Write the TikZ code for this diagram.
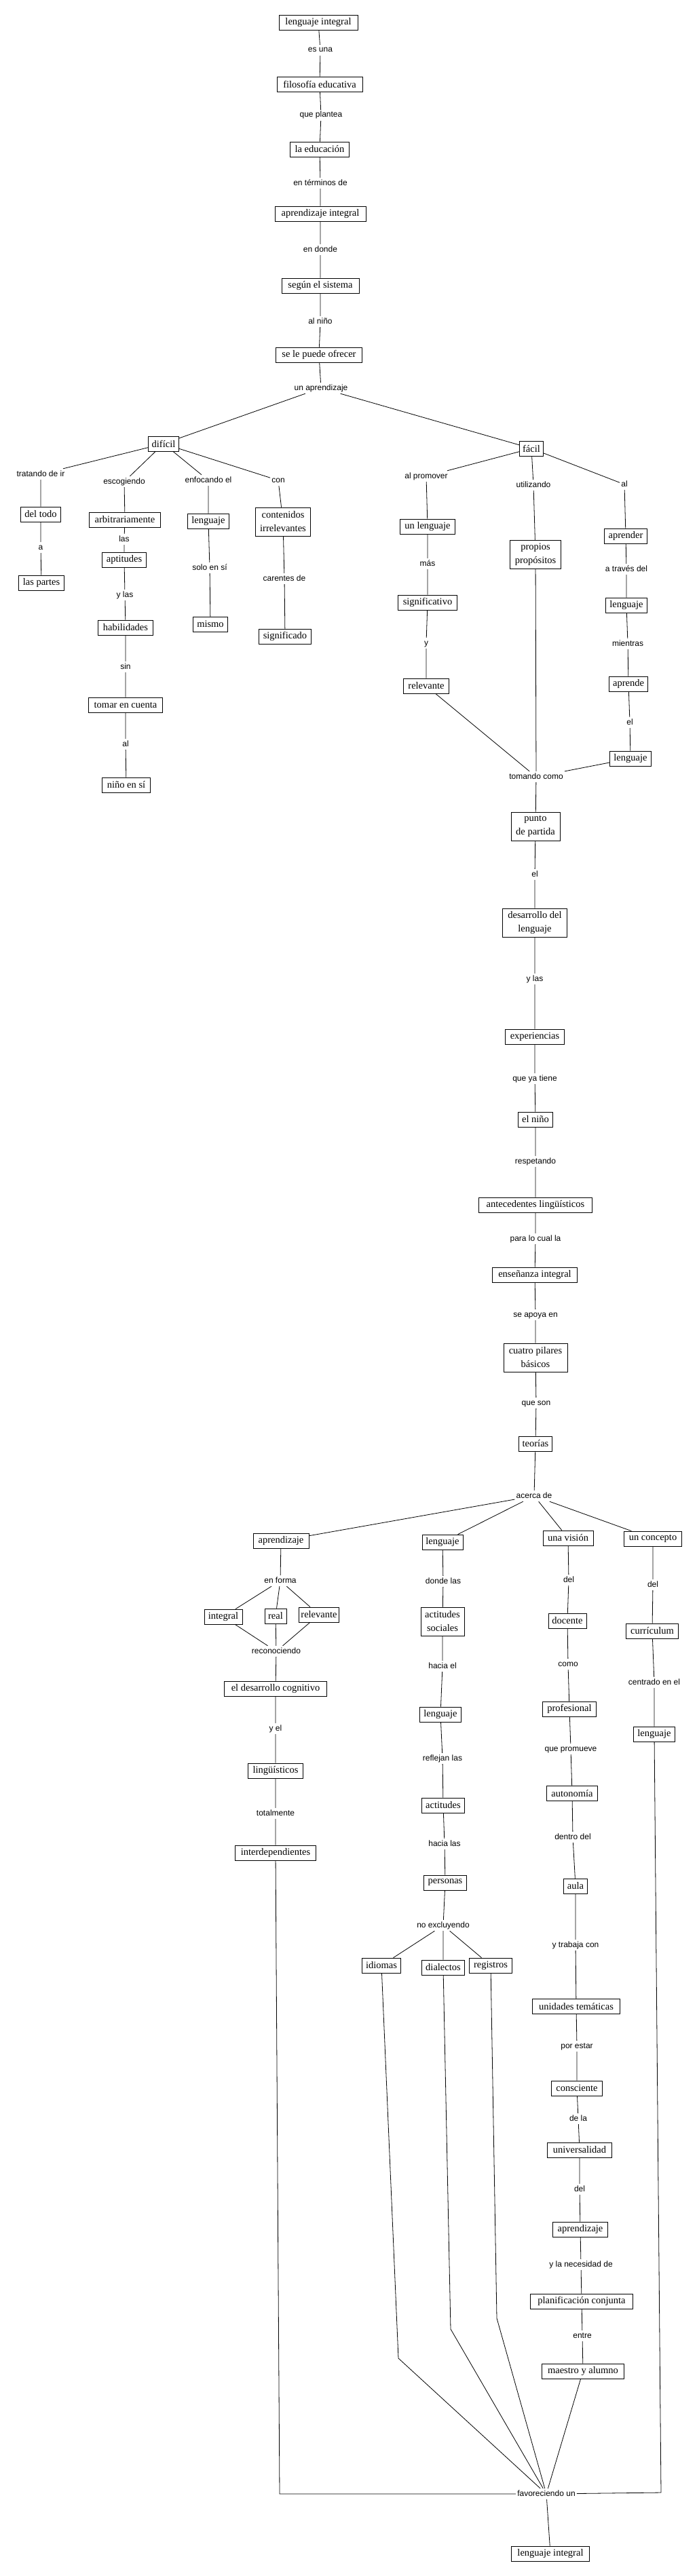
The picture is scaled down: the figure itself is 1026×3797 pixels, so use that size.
\documentclass[tikz,border=0pt]{standalone}
\usepackage{fontspec}
\setmainfont{Liberation Serif}
\newfontfamily\lblfont{Liberation Sans}

\begin{document}
\begin{tikzpicture}[
  x=1pt,y=-1pt,
  box/.style={draw=black,fill=white,line width=.8pt,minimum width=#1pt,minimum height=22pt,inner xsep=3pt,inner ysep=2pt,align=center,font=\fontsize{14.5}{20}\selectfont},
  tallbox/.style={box=#1,minimum height=42pt},
  lbl/.style={font=\lblfont\fontsize{12}{14}\selectfont,inner sep=2pt,text height=9pt,text depth=3pt},
  link/.style={draw=black,line width=.8pt}
]
\path[fill=white,use as bounding box] (0,0) rectangle (1026,3797);

% main chain, top
\node[box=116] (litop) at (469,33) {lenguaje integral};
\node[lbl] (esuna) at (472,74) {es una};
\node[box=126] (filo) at (471,124) {filosofía educativa};
\node[lbl] (plantea) at (473,170) {que plantea};
\node[box=87] (educ) at (471,220) {la educación};
\node[lbl] (terminos) at (472,270) {en términos de};
\node[box=134] (aprint) at (472,315) {aprendizaje integral};
\node[lbl] (endonde) at (472,368) {en donde};
\node[box=114] (sistema) at (472,421) {según el sistema};
\node[lbl] (alnino) at (472,474) {al niño};
\node[box=127] (ofrecer) at (470,523) {se le puede ofrecer};
\node[lbl] (unapr) at (473,572) {un aprendizaje};

% difícil branch
\node[box=45] (dificil) at (241,654) {difícil};
\node[lbl] (tratando) at (60,699) {tratando de ir};
\node[lbl] (escogiendo) at (183,710) {escogiendo};
\node[lbl] (enfocando) at (307,708) {enfocando el};
\node[lbl] (con) at (410,708) {con};
\node[box=59] (deltodo) at (60,758) {del todo};
\node[lbl] (a) at (60,807) {a};
\node[box=67] (partes) at (61,859) {las partes};
\node[box=105] (arbitr) at (184,766) {arbitrariamente};
\node[lbl] (las) at (183,795) {las};
\node[box=65] (aptitudes) at (183,825) {aptitudes};
\node[lbl] (ylas) at (184,877) {y las};
\node[box=81] (habil) at (185,925) {habilidades};
\node[lbl] (sin) at (185,983) {sin};
\node[box=109] (tomar) at (185,1039) {tomar en cuenta};
\node[lbl] (al) at (185,1097) {al};
\node[box=71] (ninosi) at (186,1157) {niño en sí};
\node[box=61] (lengA) at (307,768) {lenguaje};
\node[lbl] (soloensi) at (309,837) {solo en sí};
\node[box=51] (mismo) at (310,920) {mismo};
\node[tallbox=81] (contenidos) at (417,769) {contenidos\\irrelevantes};
\node[lbl] (carentes) at (419,853) {carentes de};
\node[box=77] (signif) at (420,938) {significado};

% fácil branch
\node[box=35] (facil) at (783,661) {fácil};
\node[lbl] (promover) at (628,702) {al promover};
\node[lbl] (utilizando) at (786,715) {utilizando};
\node[lbl] (alB) at (920,714) {al};
\node[box=81] (unleng) at (630,776) {un lenguaje};
\node[lbl] (mas) at (630,831) {más};
\node[box=87] (signific) at (630,888) {significativo};
\node[lbl] (y) at (628,948) {y};
\node[box=67] (relev) at (628,1011) {relevante};
\node[tallbox=75] (propios) at (789,817) {propios\\propósitos};
\node[box=63] (aprender) at (922,790) {aprender};
\node[lbl] (traves) at (923,839) {a través del};
\node[box=61] (lengB) at (923,892) {lenguaje};
\node[lbl] (mientras) at (925,949) {mientras};
\node[box=57] (aprende) at (926,1008) {aprende};
\node[lbl] (el) at (928,1065) {el};
\node[box=61] (lengC) at (929,1118) {lenguaje};
\node[lbl] (tomando) at (790,1145) {tomando como};

% main chain, middle
\node[tallbox=72] (punto) at (789,1218) {punto\\de partida};
\node[lbl] (elB) at (788,1289) {el};
\node[tallbox=95] (desarr) at (788,1360) {desarrollo del\\lenguaje};
\node[lbl] (ylasB) at (788,1443) {y las};
\node[box=87] (exper) at (788,1528) {experiencias};
\node[lbl] (yatiene) at (788,1590) {que ya tiene};
\node[box=51] (elnino) at (789,1650) {el niño};
\node[lbl] (respetando) at (789,1712) {respetando};
\node[box=167] (anteced) at (789,1776) {antecedentes lingüísticos};
\node[lbl] (paralo) at (789,1826) {para lo cual la};
\node[box=125] (ensen) at (788,1879) {enseñanza integral};
\node[lbl] (apoya) at (789,1938) {se apoya en};
\node[tallbox=94] (pilares) at (789,2001) {cuatro pilares\\básicos};
\node[lbl] (queson) at (790,2068) {que son};
\node[box=49] (teorias) at (789,2128) {teorías};
\node[lbl] (acerca) at (787,2205) {acerca de};

% aprendizaje
\node[box=82] (aprB) at (414,2271) {aprendizaje};
\node[lbl] (enforma) at (413,2330) {en forma};
\node[box=56] (integral) at (329,2383) {integral};
\node[box=32] (real) at (406,2382) {real};
\node[box=57] (relevB) at (470,2380) {relevante};
\node[lbl] (reconoc) at (407,2434) {reconociendo};
\node[box=151] (cognit) at (406,2489) {el desarrollo cognitivo};
\node[lbl] (yel) at (406,2548) {y el};
\node[box=81] (lingu) at (406,2610) {lingüísticos};
\node[lbl] (totalm) at (406,2673) {totalmente};
\node[box=119] (interdep) at (406,2731) {interdependientes};

% lenguaje
\node[box=60] (lengD) at (652,2273) {lenguaje};
\node[lbl] (dondelas) at (653,2331) {donde las};
\node[tallbox=64] (actsoc) at (652,2390) {actitudes\\sociales};
\node[lbl] (haciael) at (652,2456) {hacia el};
\node[box=61] (lengE) at (649,2527) {lenguaje};
\node[lbl] (reflejan) at (652,2592) {reflejan las};
\node[box=63] (actitud) at (653,2661) {actitudes};
\node[lbl] (hacialas) at (655,2718) {hacia las};
\node[box=63] (personas) at (656,2775) {personas};
\node[lbl] (noexcl) at (653,2838) {no excluyendo};
\node[box=57] (idiomas) at (562,2897) {idiomas};
\node[box=63] (dialectos) at (653,2900) {dialectos};
\node[box=63] (registros) at (723,2897) {registros};

% una visión
\node[box=74] (vision) at (837,2267) {una visión};
\node[lbl] (delA) at (838,2329) {del};
\node[box=56] (docente) at (836,2389) {docente};
\node[lbl] (como) at (837,2453) {como};
\node[box=79] (profes) at (839,2519) {profesional};
\node[lbl] (promueve) at (841,2578) {que promueve};
\node[box=75] (autonom) at (843,2643) {autonomía};
\node[lbl] (dentro) at (844,2708) {dentro del};
\node[box=35] (aula) at (848,2780) {aula};
\node[lbl] (trabaja) at (848,2867) {y trabaja con};
\node[box=129] (unidades) at (849,2957) {unidades temáticas};
\node[lbl] (porestar) at (850,3016) {por estar};
\node[box=75] (conscien) at (850,3078) {consciente};
\node[lbl] (dela) at (852,3123) {de la};
\node[box=95] (univers) at (854,3169) {universalidad};
\node[lbl] (delB) at (854,3227) {del};
\node[box=81] (aprC) at (855,3286) {aprendizaje};
\node[lbl] (necesidad) at (856,3338) {y la necesidad de};
\node[box=151] (planif) at (857,3392) {planificación conjunta};
\node[lbl] (entre) at (858,3443) {entre};
\node[box=121] (maestro) at (859,3495) {maestro y alumno};

% un concepto
\node[box=85] (concepto) at (962,2268) {un concepto};
\node[lbl] (delC) at (962,2336) {del};
\node[box=77] (curric) at (961,2404) {currículum};
\node[lbl] (centrado) at (964,2480) {centrado en el};
\node[box=61] (lengF) at (964,2556) {lenguaje};

% closing
\node[lbl] (favor) at (805,3676) {favoreciendo un};
\node[box=115] (libot) at (811,3764) {lenguaje integral};
\coordinate (bendL) at (412,3676);
\coordinate (bendR) at (974,3674);
\coordinate (bendI) at (587,3476);
\coordinate (bendD) at (664,3433);
\coordinate (bendG) at (732,3417);

\draw[link] (litop)--(esuna)--(filo)--(plantea)--(educ)--(terminos)--(aprint)--(endonde)--(sistema)--(alnino)--(ofrecer)--(unapr);
\draw[link] (unapr)--(dificil); \draw[link] (unapr)--(facil);
\draw[link] (dificil)--(tratando)--(deltodo)--(a)--(partes);
\draw[link] (dificil)--(escogiendo)--(arbitr)--(las)--(aptitudes)--(ylas)--(habil)--(sin)--(tomar)--(al)--(ninosi);
\draw[link] (dificil)--(enfocando)--(lengA)--(soloensi)--(mismo);
\draw[link] (dificil)--(con)--(contenidos)--(carentes)--(signif);
\draw[link] (facil)--(promover)--(unleng)--(mas)--(signific)--(y)--(relev)--(tomando);
\draw[link] (facil)--(utilizando)--(propios)--(tomando);
\draw[link] (facil)--(alB)--(aprender)--(traves)--(lengB)--(mientras)--(aprende)--(el)--(lengC)--(tomando);
\draw[link] (tomando)--(punto)--(elB)--(desarr)--(ylasB)--(exper)--(yatiene)--(elnino)--(respetando)--(anteced)--(paralo)--(ensen)--(apoya)--(pilares)--(queson)--(teorias)--(acerca);
\draw[link] (acerca)--(aprB); \draw[link] (acerca)--(lengD);
\draw[link] (acerca)--(vision); \draw[link] (acerca)--(concepto);
\draw[link] (aprB)--(enforma);
\draw[link] (enforma)--(integral)--(reconoc); \draw[link] (enforma)--(real)--(reconoc); \draw[link] (enforma)--(relevB)--(reconoc);
\draw[link] (reconoc)--(cognit)--(yel)--(lingu)--(totalm)--(interdep)--(bendL)--(favor);
\draw[link] (lengD)--(dondelas)--(actsoc)--(haciael)--(lengE)--(reflejan)--(actitud)--(hacialas)--(personas)--(noexcl);
\draw[link] (noexcl)--(idiomas)--(bendI)--(favor);
\draw[link] (noexcl)--(dialectos)--(bendD)--(favor);
\draw[link] (noexcl)--(registros)--(bendG)--(favor);
\draw[link] (vision)--(delA)--(docente)--(como)--(profes)--(promueve)--(autonom)--(dentro)--(aula)--(trabaja)--(unidades)--(porestar)--(conscien)--(dela)--(univers)--(delB)--(aprC)--(necesidad)--(planif)--(entre)--(maestro)--(favor);
\draw[link] (concepto)--(delC)--(curric)--(centrado)--(lengF)--(bendR)--(favor);
\draw[link] (favor)--(libot);
\end{tikzpicture}
\end{document}
